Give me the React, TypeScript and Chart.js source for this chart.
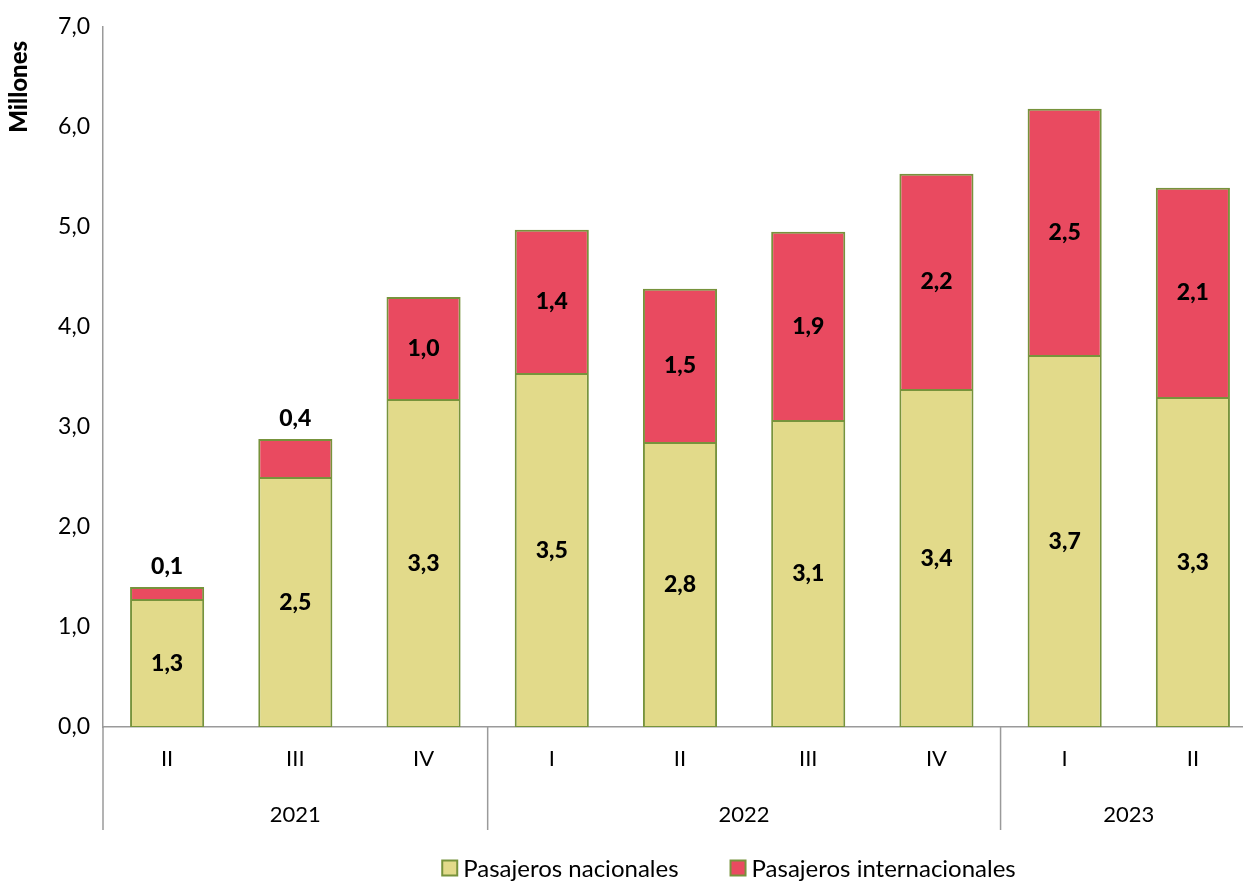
import React, { useEffect, useRef } from "react";
import { Chart, registerables } from "chart.js";

Chart.register(...registerables);

const quarters = ["II", "III", "IV", "I", "II", "III", "IV", "I", "II"];
const yearLabels = ["2021", "2022", "2023"];
const yearSpans = [3, 4, 2];
const nacionales = [1.27, 2.49, 3.27, 3.53, 2.84, 3.06, 3.37, 3.71, 3.29];
const internacionales = [0.13, 0.39, 1.03, 1.44, 1.54, 1.89, 2.16, 2.47, 2.1];
const yTicks = [0, 1, 2, 3, 4, 5, 6, 7];

const FONT = "Lato";
const YELLOW = "#E2DA8A";
const RED = "#E94A60";
const GREEN = "#77933C";
const AXIS = "#9a9a9a";

const fmt = (v: number) => v.toFixed(1).replace(".", ",");

const labelsPlugin = {
  id: "customLabels",
  afterDatasetsDraw(chart: any) {
    const ctx = chart.ctx;
    ctx.save();
    ctx.font = `900 23px ${FONT}`;
    ctx.fillStyle = "#000";
    ctx.textAlign = "center";
    ctx.textBaseline = "middle";
    chart.data.datasets.forEach((ds: any, di: number) => {
      const meta = chart.getDatasetMeta(di);
      meta.data.forEach((el: any, i: number) => {
        const v = ds.data[i];
        const small = di === 1 && v < 0.5;
        const y = small ? el.y - 20 : (el.y + el.base) / 2;
        ctx.fillText(fmt(v), el.x, y);
      });
    });
    ctx.restore();
  },
  afterDraw(chart: any) {
    const ctx = chart.ctx;
    const xs = chart.scales.x;
    const area = chart.chartArea;
    const step = xs.getPixelForValue(1) - xs.getPixelForValue(0);
    ctx.save();
    // year separators
    ctx.strokeStyle = AXIS;
    ctx.lineWidth = 1.5;
    let idx = 0;
    const bounds = [0];
    yearSpans.forEach((s) => {
      idx += s;
      bounds.push(idx);
    });
    bounds.forEach((b) => {
      const x = xs.getPixelForValue(b) - step / 2;
      ctx.beginPath();
      ctx.moveTo(x, area.bottom);
      ctx.lineTo(x, area.bottom + 103);
      ctx.stroke();
    });
    // year labels
    ctx.font = `22px ${FONT}`;
    ctx.fillStyle = "#000";
    ctx.textAlign = "center";
    ctx.textBaseline = "middle";
    let start = 0;
    yearLabels.forEach((yl, k) => {
      const mid = start + (yearSpans[k] - 1) / 2;
      ctx.fillText(yl, xs.getPixelForValue(mid), area.bottom + 88);
      start += yearSpans[k];
    });
    // y title
    ctx.save();
    ctx.translate(19, area.top + 14);
    ctx.rotate(-Math.PI / 2);
    ctx.font = `900 24px ${FONT}`;
    ctx.textAlign = "right";
    ctx.textBaseline = "middle";
    ctx.fillText("Millones", 0, 0);
    ctx.restore();
    // legend
    const items = chart.data.datasets.map((d: any) => ({ label: d.label, color: d.backgroundColor }));
    ctx.font = `24px ${FONT}`;
    ctx.textAlign = "left";
    const box = 15;
    const gap = 6;
    const between = 52;
    const widths = items.map((it: any) => box + gap + ctx.measureText(it.label).width);
    const total = widths.reduce((a: number, b: number) => a + b, 0) + between * (items.length - 1);
    let lx = 729 - total / 2;
    const ly = 868;
    items.forEach((it: any, k: number) => {
      ctx.fillStyle = it.color;
      ctx.fillRect(lx, ly - box / 2, box, box);
      ctx.strokeStyle = GREEN;
      ctx.lineWidth = 2;
      ctx.strokeRect(lx, ly - box / 2, box, box);
      ctx.fillStyle = "#000";
      ctx.fillText(it.label, lx + box + gap, ly + 1);
      lx += widths[k] + between;
    });
    ctx.restore();
  },
};

export default function App() {
  const ref = useRef<HTMLCanvasElement>(null);
  useEffect(() => {
    document.body.style.margin = "0";
    const chart = new Chart(ref.current!, {
      type: "bar",
      data: {
        labels: quarters,
        datasets: [
          {
            label: "Pasajeros nacionales",
            data: nacionales,
            backgroundColor: YELLOW,
            borderColor: GREEN,
            borderWidth: { top: 1, bottom: 1, left: 2, right: 2 },
            borderSkipped: false,
            barPercentage: 0.578,
            categoryPercentage: 1,
          },
          {
            label: "Pasajeros internacionales",
            data: internacionales,
            backgroundColor: RED,
            borderColor: GREEN,
            borderWidth: { top: 2, bottom: 1, left: 2, right: 2 },
            borderSkipped: false,
            barPercentage: 0.578,
            categoryPercentage: 1,
          },
        ],
      },
      options: {
        animation: false,
        responsive: true,
        maintainAspectRatio: false,
        layout: { padding: { left: 0, right: 18, top: 26, bottom: 0 } },
        plugins: { legend: { display: false }, tooltip: { enabled: false } },
        scales: {
          x: {
            stacked: true,
            grid: { display: false, drawTicks: false },
            border: { display: true, color: AXIS, width: 1.5 },
            ticks: { color: "#000", font: { family: FONT, size: 22 }, padding: 19, maxRotation: 0, autoSkip: false },
            afterFit: (s: any) => {
              s.height = 155;
            },
          },
          y: {
            stacked: true,
            min: 0,
            max: 7,
            grid: { display: false, drawTicks: false },
            border: { display: true, color: AXIS, width: 1.5 },
            afterBuildTicks: (s: any) => {
              s.ticks = yTicks.map((v) => ({ value: v }));
            },
            ticks: {
              color: "#000",
              font: { family: FONT, size: 23 },
              padding: 13,
              callback: (v: any) => fmt(Number(v)),
            },
            afterFit: (s: any) => {
              s.width = 103;
            },
          },
        },
      },
      plugins: [labelsPlugin],
    });
    return () => chart.destroy();
  }, []);
  return (
    <div style={{ width: 1243, height: 882, overflow: "hidden", position: "relative" }}>
      <div style={{ width: 1275, height: 882, position: "absolute", left: 0, top: 0 }}>
        <canvas ref={ref} />
      </div>
    </div>
  );
}
